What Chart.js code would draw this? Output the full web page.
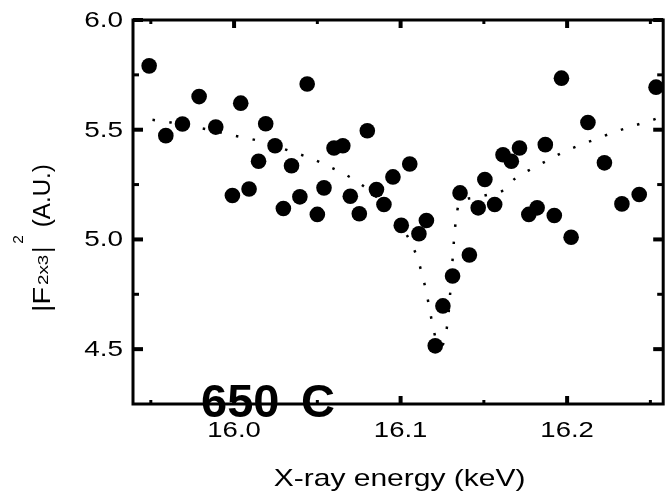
<!DOCTYPE html>
<html>
<head>
<meta charset="utf-8">
<script src="https://cdn.jsdelivr.net/npm/chart.js@4.4.0/dist/chart.umd.min.js"></script>
<style>
  body { margin: 0; background: #fff; }
  canvas { display: block; }
</style>
</head>
<body>
<canvas id="myChart" width="671" height="492"></canvas>
<script>
// measured points
const energy = [15.949, 15.959, 15.969, 15.979, 15.989, 15.999, 16.004, 16.009, 16.0147, 16.019,
  16.0246, 16.0296, 16.0345, 16.0395, 16.0439, 16.050, 16.054, 16.060, 16.0653, 16.0698,
  16.0752, 16.080, 16.0855, 16.090, 16.0954, 16.1004, 16.1055, 16.111, 16.1155, 16.1208,
  16.1254, 16.1312, 16.1357, 16.1413, 16.1466, 16.1506, 16.1565, 16.1615, 16.1665, 16.1714,
  16.177, 16.182, 16.1869, 16.1923, 16.1966, 16.2024, 16.2125, 16.2224, 16.2329, 16.2433, 16.2534];
const intensity = [5.791, 5.473, 5.526, 5.651, 5.512, 5.200, 5.621, 5.230, 5.356, 5.527,
  5.427, 5.141, 5.336, 5.194, 5.708, 5.114, 5.235, 5.417, 5.427, 5.197,
  5.117, 5.495, 5.227, 5.159, 5.285, 5.064, 5.344, 5.026, 5.086, 4.515,
  4.697, 4.833, 5.212, 4.929, 5.144, 5.273, 5.159, 5.386, 5.356, 5.417,
  5.114, 5.144, 5.432, 5.109, 5.735, 5.010, 5.533, 5.349, 5.162, 5.205, 5.694];

// dotted fit curve
const fitEnergy = [15.951, 15.962, 15.972, 15.983, 15.993, 16.004, 16.015, 16.025, 16.035, 16.046,
  16.056, 16.067, 16.077, 16.086, 16.094, 16.100, 16.1055, 16.110, 16.113, 16.1155,
  16.1175, 16.1195, 16.1215, 16.1237, 16.126, 16.1278, 16.129, 16.1298, 16.1306, 16.1313,
  16.1321, 16.1331, 16.135, 16.144, 16.153, 16.1615, 16.1685, 16.177, 16.188, 16.198,
  16.2085, 16.219, 16.229, 16.240, 16.2504, 16.2534];
const fitIntensity = [5.545, 5.533, 5.518, 5.503, 5.485, 5.467, 5.449, 5.425, 5.399, 5.370,
  5.336, 5.295, 5.247, 5.19, 5.129, 5.065, 4.995, 4.917, 4.838, 4.758,
  4.679, 4.599, 4.54, 4.515, 4.53, 4.599, 4.679, 4.758, 4.838, 4.917,
  5.0, 5.08, 5.159, 5.19, 5.205, 5.223, 5.276, 5.315, 5.359, 5.399,
  5.432, 5.462, 5.491, 5.518, 5.542, 5.55];

const xTicks = [16.0, 16.1, 16.2];
const xMinorTicks = [15.95, 16.05, 16.15, 16.25];
const yTicks = [4.5, 5.0, 5.5, 6.0];
const yMinorTicks = [4.75, 5.25, 5.75];
const xTitle = 'X-ray energy (keV)';
const tempLabel = ['650', 'C'];

const FONT = '"Liberation Sans", Arial, sans-serif';

function wideText(ctx, text, x, y, sx, align) {
  ctx.save();
  ctx.translate(x, y);
  ctx.scale(sx, 1);
  ctx.textAlign = align;
  ctx.fillText(text, 0, 0);
  ctx.restore();
}

// frame, inward ticks and all the text
const framePlugin = {
  id: 'frame',
  afterDatasetsDraw(chart) {
    const { ctx, chartArea: a, scales: { x, y } } = chart;
    ctx.save();
    ctx.strokeStyle = '#000';
    ctx.fillStyle = '#000';
    ctx.lineWidth = 3;
    ctx.strokeRect(a.left, a.top, a.right - a.left, a.bottom - a.top);

    const tick = (x1, y1, x2, y2, w) => {
      ctx.lineWidth = w;
      ctx.beginPath(); ctx.moveTo(x1, y1); ctx.lineTo(x2, y2); ctx.stroke();
    };
    xTicks.forEach(v => {
      const p = x.getPixelForValue(v);
      tick(p, a.bottom, p, a.bottom - 8, 4);
      tick(p, a.top, p, a.top + 8, 4);
    });
    xMinorTicks.forEach(v => {
      const p = x.getPixelForValue(v);
      tick(p, a.bottom, p, a.bottom - 4, 3);
      tick(p, a.top, p, a.top + 4, 3);
    });
    yTicks.forEach(v => {
      const p = y.getPixelForValue(v);
      tick(a.left, p, a.left + 10, p, 4);
      tick(a.right, p, a.right - 10, p, 4);
    });
    yMinorTicks.forEach(v => {
      const p = y.getPixelForValue(v);
      tick(a.left, p, a.left + 6, p, 3);
      tick(a.right, p, a.right - 6, p, 3);
    });

    // tick labels
    ctx.font = '22px ' + FONT;
    ctx.textBaseline = 'middle';
    yTicks.forEach(v => wideText(ctx, v.toFixed(1), a.left - 10, y.getPixelForValue(v) + 1, 1.27, 'right'));
    ctx.textBaseline = 'alphabetic';
    xTicks.forEach(v => wideText(ctx, v.toFixed(1), x.getPixelForValue(v), a.bottom + 33, 1.25, 'center'));

    // x title
    ctx.font = '24px ' + FONT;
    wideText(ctx, xTitle, (a.left + a.right) / 2 + 1.5, 486, 1.25, 'center');

    // y title with sub- and superscript, laid out from the bottom up
    const pieces = [
      { t: '|F', s: 23, dy: 0, sx: 1.25, gap: 2 },
      { t: '2x3', s: 15, dy: -2, sx: 1.25, gap: 2 },
      { t: '|', s: 23, dy: 0, sx: 1, gap: 3 },
      { t: '2', s: 14, dy: -27, sx: 1.1, gap: 8 },
      { t: '(A.U.)', s: 23, dy: 0, sx: 1.05, gap: 0 }
    ];
    ctx.translate(50, 312);
    ctx.rotate(-Math.PI / 2);
    ctx.textAlign = 'left';
    let pos = 0;
    pieces.forEach(p => {
      ctx.font = p.s + 'px ' + FONT;
      const w = ctx.measureText(p.t).width * p.sx;
      ctx.save();
      ctx.translate(pos, p.dy);
      ctx.scale(p.sx, 1);
      ctx.fillText(p.t, 0, 0);
      ctx.restore();
      pos += w + p.gap;
    });
    ctx.restore();

    // temperature label
    ctx.save();
    ctx.fillStyle = '#000';
    ctx.font = 'bold 47px ' + FONT;
    ctx.textAlign = 'left';
    ctx.textBaseline = 'alphabetic';
    ctx.fillText(tempLabel[0], 201, 417);
    ctx.fillText(tempLabel[1], 301, 417);
    ctx.restore();
  }
};

const ctx = document.getElementById('myChart').getContext('2d');

const myChart = new Chart(ctx, {
  type: 'scatter',
  data: {
    datasets: [{
      label: 'data',
      data: energy.map((e, i) => ({ x: e, y: intensity[i] })),
      pointRadius: 7.8,
      pointBackgroundColor: '#000',
      pointBorderWidth: 0,
      clip: false,
      order: 0
    }, {
      label: 'fit',
      data: fitEnergy.map((e, i) => ({ x: e, y: fitIntensity[i] })),
      showLine: true,
      borderColor: '#000',
      borderWidth: 2.5,
      borderDash: [2.5, 14.5],
      cubicInterpolationMode: 'monotone',
      pointRadius: 0,
      order: 1
    }]
  },
  options: {
    responsive: false,
    animation: false,
    devicePixelRatio: 1,
    events: [],
    layout: { padding: { top: 20, right: 3, left: 0, bottom: 0 } },
    plugins: {
      legend: { display: false },
      tooltip: { enabled: false }
    },
    scales: {
      x: {
        type: 'linear',
        min: 15.9393,
        max: 16.2577,
        grid: { display: false },
        border: { display: false },
        ticks: { display: false },
        afterFit: s => { s.height = 88; }
      },
      y: {
        min: 4.25,
        max: 6.0,
        grid: { display: false },
        border: { display: false },
        ticks: { display: false },
        afterFit: s => { s.width = 133; }
      }
    }
  },
  plugins: [framePlugin]
});
</script>
</body>
</html>
